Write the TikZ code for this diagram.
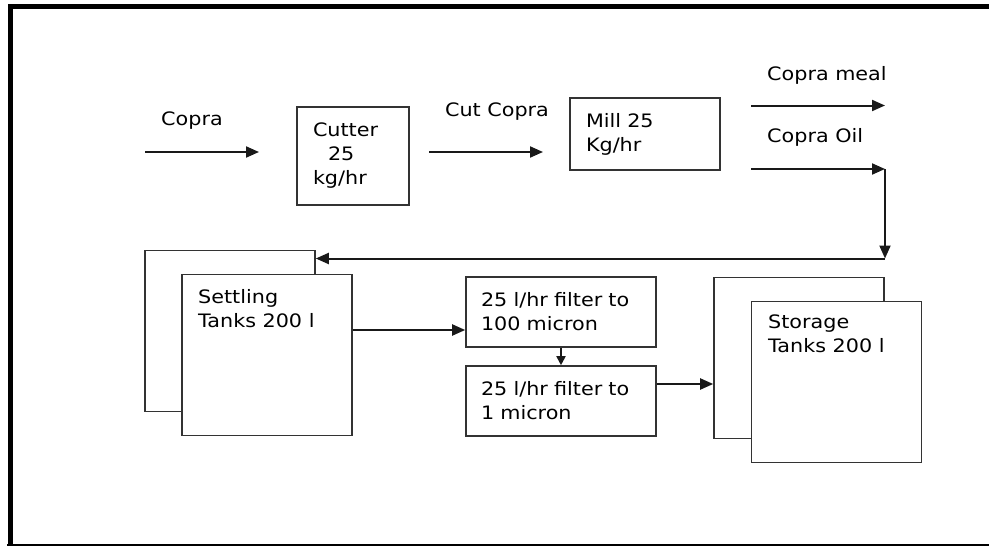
\documentclass[tikz,border=0pt]{standalone}
\usepackage{fontspec}
\setmainfont{DejaVu Sans}[FakeStretch=1.12]
\usetikzlibrary{arrows.meta}

\newcommand{\flowfont}{\fontsize{18.5}{24}\selectfont}

\begin{document}
\begin{tikzpicture}[x=1pt, y=-1pt,
        box/.style={rectangle, draw=black!80, line width=1.6pt, fill=white,
                    align=left, font=\flowfont, text=black,
                    inner xsep=16pt, inner ysep=0pt},
        tank/.style={rectangle, draw=black!80, line width=1.6pt, fill=white,
                     minimum width=170pt, minimum height=161pt, inner sep=0pt},
        lbl/.style={font=\flowfont, text=black, inner sep=0pt, align=left},
        arrow/.style={-{Triangle[length=13pt, width=11pt]}, line width=2pt, black!90},
        shortarrow/.style={-{Triangle[length=9pt, width=9pt]}, line width=1.8pt, black!90},
    ]
    \useasboundingbox (0,0) rectangle (989,546);

    % Rahmen
    \draw[line width=5pt] (10,546) -- (10,6.5) -- (989,6.5);
    \draw[line width=3pt] (7,545) -- (989,545);

    % Cutter
    \node[box, text width=80pt, minimum height=98pt] (cutter) at (353,156)
        {Cutter\\\hspace*{15pt}25\\kg/hr};

    % Mill
    \node[box, text width=118pt, minimum height=72pt] (mill) at (645,134)
        {Mill 25\\Kg/hr};

    % Settling tanks (links)
    \node[tank] (settleback) at (230,331) {};
    \node[tank] (settle) at (267,355) {};
    \node[lbl, anchor=north west] (settletxt) at (198,289) {Settling\\Tanks 200 l};

    % Filter
    \node[box, inner xsep=15pt, text width=160pt, minimum height=70pt] (filterA) at (561,312)
        {25 l/hr filter to\\100 micron};
    \node[box, inner xsep=15pt, text width=160pt, minimum height=70pt] (filterB) at (561,401)
        {25 l/hr filter to\\1 micron};

    % Storage tanks (rechts)
    \node[tank] (storeback) at (799,358) {};
    \node[tank] (store) at (836.5,382) {};
    \node[lbl, anchor=north west] (storetxt) at (768,315) {Storage\\Tanks 200 l};

    % Beschriftungen
    \node[lbl, anchor=base] (copra) at (192,125) {Copra};
    \node[lbl, anchor=base] (cutcopra) at (497,116) {Cut Copra};
    \node[lbl, anchor=base west] (meal) at (767,80) {Copra meal};
    \node[lbl, anchor=base west] (oil) at (767,142) {Copra Oil};

    % Pfeile
    \coordinate (copraA) at (145,152);
    \coordinate (copraB) at (259,152);
    \coordinate (cutA) at (429,152);
    \coordinate (cutB) at (543,152);
    \coordinate (mealA) at (751,105.5);
    \coordinate (mealB) at (885,105.5);
    \coordinate (oilA) at (751,169);
    \coordinate (oilturn) at (885,169);
    \coordinate (oildrop) at (885,258.5);

    \draw[arrow] (copraA) -- (copraB);
    \draw[arrow] (cutA) -- (cutB);
    \draw[arrow] (mealA) -- (mealB);
    \draw[arrow] (oilA) -- (oilturn);
    \draw[arrow] (oilturn) -- (oildrop);
    \draw[arrow] (oildrop) -- (oildrop -| settleback.east);
    \draw[arrow] (settle.east |- 0,330) -- (filterA.west |- 0,330);
    \draw[shortarrow] (filterA) -- (filterB);
    \draw[arrow] (filterB.east |- 0,384) -- (storeback.west |- 0,384);

    \end{tikzpicture}
\end{document}
